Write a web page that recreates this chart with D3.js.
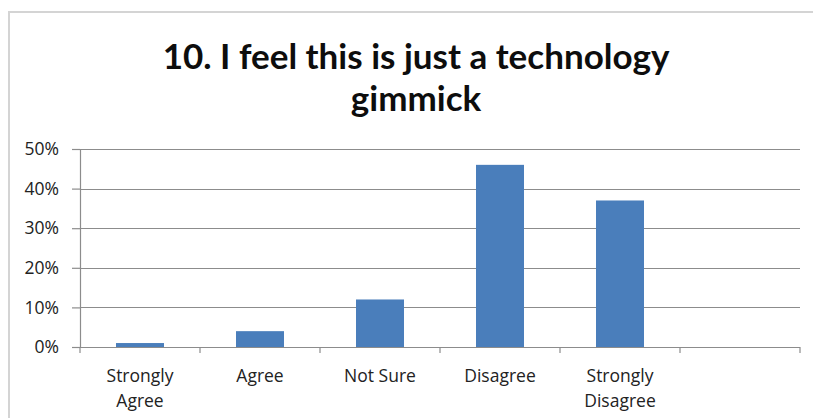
<!DOCTYPE html>
<html>
<head>
<meta charset="utf-8">
<script src="https://cdn.jsdelivr.net/npm/d3@7"></script>
<style>
  html, body { margin: 0; padding: 0; background: #fff; }
  svg { display: block; }
</style>
</head>
<body>
<script>
// Survey responses for question 10
const categories = ["Strongly Agree", "Agree", "Not Sure", "Disagree", "Strongly Disagree", ""];
const values = [0.01, 0.04, 0.12, 0.46, 0.37];
const yTicks = [0, 0.1, 0.2, 0.3, 0.4, 0.5];
const titleLines = ["10. I feel this is just a technology", "gimmick"];

const W = 813, H = 418;
const svg = d3.select("body").append("svg").attr("width", W).attr("height", H);

// chart frame
svg.append("rect")
  .attr("x", 9).attr("y", 12)
  .attr("width", W + 10).attr("height", H + 10)
  .attr("fill", "#fff").attr("stroke", "#d4d4d4").attr("stroke-width", 2);

const plot = { left: 80, right: 800, top: 149, bottom: 347 };

const x = d3.scaleBand()
  .domain(categories.map((d, i) => i))
  .range([plot.left, plot.right])
  .paddingInner(0.6).paddingOuter(0.3);

const y = d3.scaleLinear().domain([0, 0.5]).range([plot.bottom, plot.top]);

const labelFont = "'Open Sans', sans-serif";
const titleFont = "Lato, 'Open Sans', sans-serif";

// horizontal gridlines
svg.append("g")
  .selectAll("line").data(yTicks.slice(1)).join("line")
  .attr("x1", plot.left).attr("x2", plot.right)
  .attr("y1", d => Math.round(y(d)) + 0.5).attr("y2", d => Math.round(y(d)) + 0.5)
  .attr("stroke", "#8c8c8c").attr("stroke-width", 1.2);

// y axis
const yAxis = svg.append("g")
  .attr("transform", `translate(${plot.left},0)`)
  .call(d3.axisLeft(y).tickValues(yTicks).tickFormat(d3.format(".0%")).tickSize(8).tickPadding(13));
yAxis.select(".domain").attr("stroke", "#8c8c8c").attr("stroke-width", 1.2);
yAxis.selectAll(".tick line").attr("stroke", "#8c8c8c").attr("stroke-width", 1.2);
yAxis.selectAll("text").attr("font-family", labelFont).attr("font-size", 17.5).attr("fill", "#222");

// bars
svg.append("g")
  .selectAll("rect").data(values).join("rect")
  .attr("x", (d, i) => x(i))
  .attr("y", d => y(d))
  .attr("width", x.bandwidth())
  .attr("height", d => y(0) - y(d))
  .attr("fill", "#4a7ebb");

// x axis with ticks between categories
const step = x.step();
const boundaries = d3.range(categories.length + 1).map(i => plot.left + i * step);
const xa = svg.append("g");
xa.append("line")
  .attr("x1", plot.left).attr("x2", plot.right)
  .attr("y1", plot.bottom + 0.5).attr("y2", plot.bottom + 0.5)
  .attr("stroke", "#8c8c8c").attr("stroke-width", 1.2);
xa.selectAll("line.tk").data(boundaries).join("line")
  .attr("class", "tk")
  .attr("x1", d => d).attr("x2", d => d)
  .attr("y1", plot.bottom).attr("y2", plot.bottom + 6)
  .attr("stroke", "#8c8c8c").attr("stroke-width", 1.2);

// category labels, wrapped onto two lines where needed
const labelLines = c => c.startsWith("Strongly ") ? ["Strongly", c.slice(9)] : [c];
categories.forEach((c, i) => {
  if (!c) return;
  const cx = x(i) + x.bandwidth() / 2;
  const t = svg.append("text")
    .attr("x", cx)
    .attr("y", 382)
    .attr("text-anchor", "middle")
    .attr("font-family", labelFont).attr("font-size", 17.5).attr("fill", "#222");
  labelLines(c).forEach((ln, j) => {
    t.append("tspan").attr("x", cx).attr("dy", j ? 25 : 0).text(ln);
  });
});

// title
svg.append("text")
  .attr("x", 416).attr("y", 69)
  .attr("text-anchor", "middle")
  .attr("font-family", titleFont).attr("font-weight", "bold").attr("font-size", 35).attr("fill", "#0d0d0d")
  .selectAll("tspan").data(titleLines).join("tspan")
  .attr("x", 416).attr("dy", (d, i) => i ? 42 : 0)
  .text(d => d);
</script>
</body>
</html>
